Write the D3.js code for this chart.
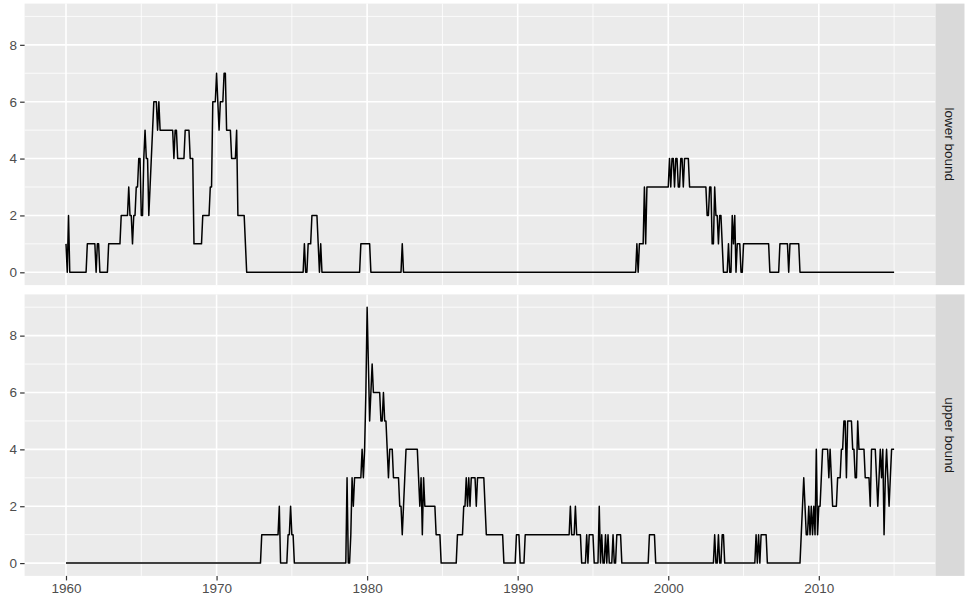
<!DOCTYPE html>
<html>
<head>
<meta charset="utf-8">
<script src="https://cdn.jsdelivr.net/npm/d3@7"></script>
<style>
  body { margin: 0; background: #ffffff; }
  text { font-family: "Liberation Sans", Arial, sans-serif; }
</style>
</head>
<body>
<div id="chart"></div>
<script>
// monthly series, Jan 1960 onwards, stored as runs: value held for n months
var lowerValues = [1,0,2,0,1,0,1,0,1,2,3,2,1,2,3,4,2,4,5,4,2,3,4,5,6,5,6,5,4,5,4,5,4,1,2,3,6,7,6,5,6,7,5,4,5,2,1,0,1,0,1,2,1,0,1,0,1,0,1,0,1,0,1,3,1,3,4,3,4,3,4,3,4,3,4,3,2,3,1,3,2,1,2,1,0,1,0,2,1,2,0,1,0,1,0,1,0,1,0];
var lowerRuns   = [1,1,1,14,7,1,2,7,10,6,1,2,1,2,2,2,2,1,1,2,1,1,1,1,3,1,1,11,1,2,6,4,3,7,6,2,3,1,1,1,3,2,4,4,1,6,1,46,1,2,3,5,1,1,1,31,8,25,1,186,1,1,4,1,1,18,1,1,2,1,2,2,2,1,4,14,2,2,2,1,2,1,2,1,4,1,2,1,1,1,1,3,2,21,8,7,1,8,76];

var upperValues = [0,1,2,0,1,2,1,0,3,0,1,3,2,3,4,3,4,6,9,7,5,6,7,6,5,6,5,4,3,4,3,2,1,2,3,4,3,2,3,1,3,2,1,0,1,2,3,2,3,2,3,2,3,2,1,0,1,0,1,2,1,2,1,0,1,0,1,0,2,0,1,0,1,0,1,0,1,0,1,0,1,0,1,0,1,0,1,0,1,0,1,0,1,0,1,2,3,2,1,2,1,2,1,2,1,4,1,2,3,4,3,4,3,2,3,4,5,3,5,4,3,5,4,3,2,4,3,2,3,4,3,4,1,3,4,3,2,3,4];
var upperRuns   = [156,14,1,6,2,1,2,42,1,2,1,1,1,6,1,1,1,1,1,1,1,1,1,6,2,1,2,1,1,3,5,2,1,1,1,10,1,1,1,1,1,9,4,13,5,2,1,1,1,1,4,1,6,1,14,10,3,4,36,1,3,1,4,4,1,1,4,4,1,1,1,2,1,1,1,3,1,2,4,22,5,47,1,2,1,2,2,25,1,1,1,1,5,27,1,1,1,1,2,1,1,1,1,1,1,1,1,2,1,5,1,1,1,4,3,2,2,1,4,2,2,1,5,4,1,4,1,1,1,1,1,1,1,1,1,1,1,1,3];

var facetLabels = ["lower bound", "upper bound"];
var xMajorTicks = [1960, 1970, 1980, 1990, 2000, 2010];
var xMinorTicks = [1965, 1975, 1985, 1995, 2005, 2015];
var yMajorTicks = [0, 2, 4, 6, 8];
var yMinorTicks = [1, 3, 5, 7, 9];
var startYear = 1960;

var svgWidth = 966;
var svgHeight = 599;

var panel = { left: 24.6, right: 935.5, height: 281.5 };
var panelTops = [3.6, 294.4];
var stripWidth = 29;

// expand run lengths into one point per month
function expandRuns(values, runs) {
  var points = [];
  var month = 0;
  values.forEach(function(v, i) {
    for (var k = 0; k < runs[i]; k++) {
      points.push({ year: startYear + month / 12, value: v });
      month++;
    }
  });
  return points;
}

var series = [
  expandRuns(lowerValues, lowerRuns),
  expandRuns(upperValues, upperRuns)
];

var svg = d3
  .select("#chart")
  .append("svg")
  .attr("width", svgWidth)
  .attr("height", svgHeight);

// ggplot style 5% expansion on both axes
var xMin = d3.min(series[0], d => d.year);
var xMax = d3.max(series[0], d => d.year);
var xPad = (xMax - xMin) * 0.05;
var xScale = d3
  .scaleLinear()
  .domain([xMin - xPad, xMax + xPad])
  .range([panel.left, panel.right]);

var yMax = d3.max(series.map(s => d3.max(s, d => d.value)));
var yPad = yMax * 0.05;

series.forEach(function(data, i) {
  var top = panelTops[i];
  var yScale = d3
    .scaleLinear()
    .domain([-yPad, yMax + yPad])
    .range([top + panel.height, top]);

  var g = svg.append("g");

  // panel background
  g.append("rect")
    .attr("x", panel.left)
    .attr("y", top)
    .attr("width", panel.right - panel.left)
    .attr("height", panel.height)
    .attr("fill", "#ebebeb");

  // minor grid
  g.selectAll(".xminor")
    .data(xMinorTicks.filter(t => xScale(t) < panel.right))
    .enter()
    .append("line")
    .attr("x1", d => xScale(d))
    .attr("x2", d => xScale(d))
    .attr("y1", top)
    .attr("y2", top + panel.height)
    .attr("stroke", "#ffffff")
    .attr("stroke-width", 0.8);

  g.selectAll(".yminor")
    .data(yMinorTicks)
    .enter()
    .append("line")
    .attr("x1", panel.left)
    .attr("x2", panel.right)
    .attr("y1", d => yScale(d))
    .attr("y2", d => yScale(d))
    .attr("stroke", "#ffffff")
    .attr("stroke-width", 0.8);

  // major grid
  g.selectAll(".xmajor")
    .data(xMajorTicks)
    .enter()
    .append("line")
    .attr("x1", d => xScale(d))
    .attr("x2", d => xScale(d))
    .attr("y1", top)
    .attr("y2", top + panel.height)
    .attr("stroke", "#ffffff")
    .attr("stroke-width", 1.6);

  g.selectAll(".ymajor")
    .data(yMajorTicks)
    .enter()
    .append("line")
    .attr("x1", panel.left)
    .attr("x2", panel.right)
    .attr("y1", d => yScale(d))
    .attr("y2", d => yScale(d))
    .attr("stroke", "#ffffff")
    .attr("stroke-width", 1.6);

  // the series line
  var line = d3
    .line()
    .x(d => xScale(d.year))
    .y(d => yScale(d.value));

  g.append("path")
    .datum(data)
    .attr("d", line)
    .attr("fill", "none")
    .attr("stroke", "#000000")
    .attr("stroke-width", 1.5)
    .attr("stroke-linejoin", "round");

  // y axis
  var leftAxis = d3
    .axisLeft(yScale)
    .tickValues(yMajorTicks)
    .tickSize(4.5)
    .tickPadding(3);

  var yAxis = g
    .append("g")
    .attr("transform", `translate(${panel.left}, 0)`)
    .call(leftAxis);

  yAxis.select(".domain").remove();
  yAxis.selectAll("line").attr("stroke", "#333333").attr("stroke-width", 1.2);
  yAxis
    .selectAll("text")
    .attr("fill", "#4d4d4d")
    .style("font-size", "13.5px");

  // facet strip on the right
  g.append("rect")
    .attr("x", panel.right)
    .attr("y", top)
    .attr("width", stripWidth)
    .attr("height", panel.height)
    .attr("fill", "#d9d9d9");

  g.append("text")
    .attr(
      "transform",
      `translate(${panel.right + stripWidth / 2}, ${top + panel.height / 2}) rotate(90)`
    )
    .attr("text-anchor", "middle")
    .attr("dy", "0.35em")
    .attr("fill", "#1a1a1a")
    .style("font-size", "13.5px")
    .text(facetLabels[i]);
});

// x axis under the bottom panel
var bottomAxis = d3
  .axisBottom(xScale)
  .tickValues(xMajorTicks)
  .tickFormat(d3.format("d"))
  .tickSize(4.5)
  .tickPadding(3);

var xAxis = svg
  .append("g")
  .attr("transform", `translate(0, ${panelTops[1] + panel.height})`)
  .call(bottomAxis);

xAxis.select(".domain").remove();
xAxis.selectAll("line").attr("stroke", "#333333").attr("stroke-width", 1.2);
xAxis
  .selectAll("text")
  .attr("fill", "#4d4d4d")
  .style("font-size", "13.5px");
</script>
</body>
</html>
